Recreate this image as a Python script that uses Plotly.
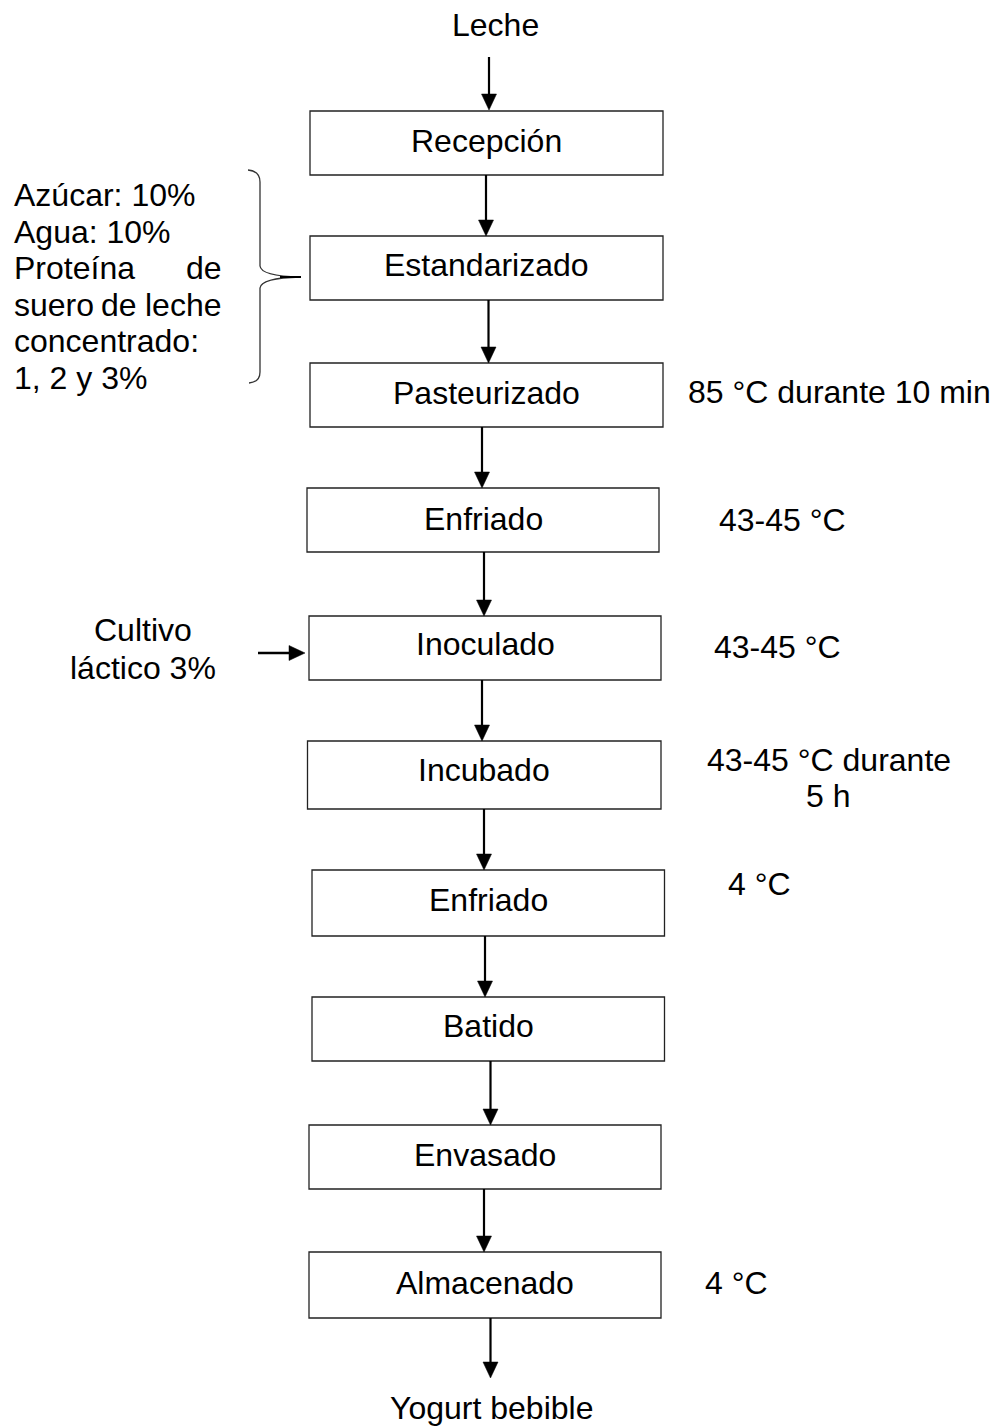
import plotly.graph_objects as go

W, H = 996, 1426
FONT = "Liberation Sans, Arial, sans-serif"
FS = 32

# ---- data: process steps ----
steps = ["Recepción", "Estandarizado", "Pasteurizado", "Enfriado", "Inoculado",
         "Incubado", "Enfriado", "Batido", "Envasado", "Almacenado"]
start_label = "Leche"
end_label = "Yogurt bebible"

# conditions beside the steps
conditions = ["85 °C durante 10 min", "43-45 °C", "43-45 °C", "43-45 °C durante", "5 h", "4 °C", "4 °C"]

# ingredients (bracketed, left side)
ingredient_lines = ["Azúcar: 10%", "Agua: 10%", "Proteína de", "suero de leche", "concentrado:", "1, 2 y 3%"]
culture_lines = ["Cultivo", "láctico 3%"]

# ---- layout (pixel positions of the diagram nodes) ----
box_x0 = [310, 310, 310, 307, 309, 307.5, 312, 312, 309, 309]
box_x1 = [663, 663, 663, 659, 661, 661, 664.5, 664.5, 661, 661]
box_y0 = [111, 236, 363, 488, 616, 741, 870, 997, 1125, 1252]
box_y1 = [175, 300, 427, 552, 680, 809, 936, 1061, 1189, 1318]
label_y = [140.5, 265, 393, 519, 644, 770, 900, 1026, 1155, 1283]

arrow_x = [489, 486, 488.5, 482, 484, 482, 484, 485, 490.5, 484, 490.5]
arrow_y0 = [57, 175, 300, 427, 552, 680, 809, 936, 1061, 1189, 1318]
arrow_y1 = [110, 236, 363, 488, 616, 741, 870, 997, 1125, 1252, 1378]

cond_x = [686, 717, 711.5, 705, 828, 726, 703]
cond_y = [392, 519.5, 647, 760, 796, 884, 1283]
cond_anchor = ["left", "left", "left", "left", "center", "left", "left"]

ing_left, ing_right = 12, 224
ing_y = [195, 231.6, 268.2, 304.8, 341.4, 378]
culture_x = 142.5
culture_y = [630, 668]

fig = go.Figure()
fig.add_trace(go.Scatter(x=[0, W], y=[0, H], mode="markers",
                         marker=dict(opacity=0), hoverinfo="skip", showlegend=False))

shapes = []
annotations = []

def text(x, y, s, anchor="center"):
    annotations.append(dict(x=x, y=y, xref="x", yref="y", text=s, showarrow=False,
                            xanchor=anchor, yanchor="middle",
                            font=dict(family=FONT, size=FS, color="#000")))

def varrow(x, y0, y1, hl=16, hw=7.5):
    shapes.append(dict(type="line", xref="x", yref="y", x0=x, x1=x, y0=y0, y1=y1 - hl + 2,
                       line=dict(color="#000", width=2.2)))
    shapes.append(dict(type="path", xref="x", yref="y",
                       path=f"M {x} {y1} L {x-hw} {y1-hl} L {x+hw} {y1-hl} Z",
                       fillcolor="#000", line=dict(color="#000", width=0.5)))

def harrow(y, x0, x1, hl=16, hw=7.5):
    shapes.append(dict(type="line", xref="x", yref="y", x0=x0, x1=x1 - hl + 2, y0=y, y1=y,
                       line=dict(color="#000", width=2.6)))
    shapes.append(dict(type="path", xref="x", yref="y",
                       path=f"M {x1} {y} L {x1-hl} {y-hw} L {x1-hl} {y+hw} Z",
                       fillcolor="#000", line=dict(color="#000", width=0.5)))

# boxes + labels
for i, s in enumerate(steps):
    shapes.append(dict(type="rect", xref="x", yref="y",
                       x0=box_x0[i], x1=box_x1[i], y0=box_y0[i], y1=box_y1[i],
                       line=dict(color="#222", width=1.3), fillcolor="rgba(0,0,0,0)"))
    text((box_x0[i] + box_x1[i]) / 2, label_y[i], s)

# start / end
text(495, 25, start_label)
text(491, 1408, end_label)

# arrows
for x, a, b in zip(arrow_x, arrow_y0, arrow_y1):
    varrow(x, a, b)

# conditions
for s, x, y, anc in zip(conditions, cond_x, cond_y, cond_anchor):
    text(x, y, s, anc)

# ingredients (justified block)
for s, y in zip(ingredient_lines, ing_y):
    if s == "Proteína de":
        text(ing_left, y, "Proteína", "left")
        text(ing_right, y, "de", "right")
    elif s == "suero de leche":
        text(ing_left, y, "suero", "left")
        text(119, y, "de", "center")
        text(ing_right, y, "leche", "right")
    else:
        text(ing_left, y, s, "left")

# brace
shapes.append(dict(type="path", xref="x", yref="y",
                   path=("M 248 170 Q 260 171 260 182 L 260 266 Q 261 276 300 277 "
                         "Q 261 278 260 288 L 260 372 Q 260 382 249 383"),
                   line=dict(color="#333", width=1.3)))
shapes.append(dict(type="line", xref="x", yref="y", x0=280, x1=301, y0=277, y1=277,
                   line=dict(color="#000", width=2)))

# culture input
for s, y in zip(culture_lines, culture_y):
    text(culture_x, y, s)
harrow(653, 258, 305)

fig.update_layout(
    width=W, height=H, margin=dict(l=0, r=0, t=0, b=0),
    paper_bgcolor="white", plot_bgcolor="white",
    xaxis=dict(range=[0, W], visible=False, fixedrange=True),
    yaxis=dict(range=[H, 0], visible=False, fixedrange=True),
    shapes=shapes, annotations=annotations, showlegend=False,
)
fig.write_html("out.html", config={"displayModeBar": False},
               post_script="document.body.style.margin='0';document.body.style.overflow='hidden';")
